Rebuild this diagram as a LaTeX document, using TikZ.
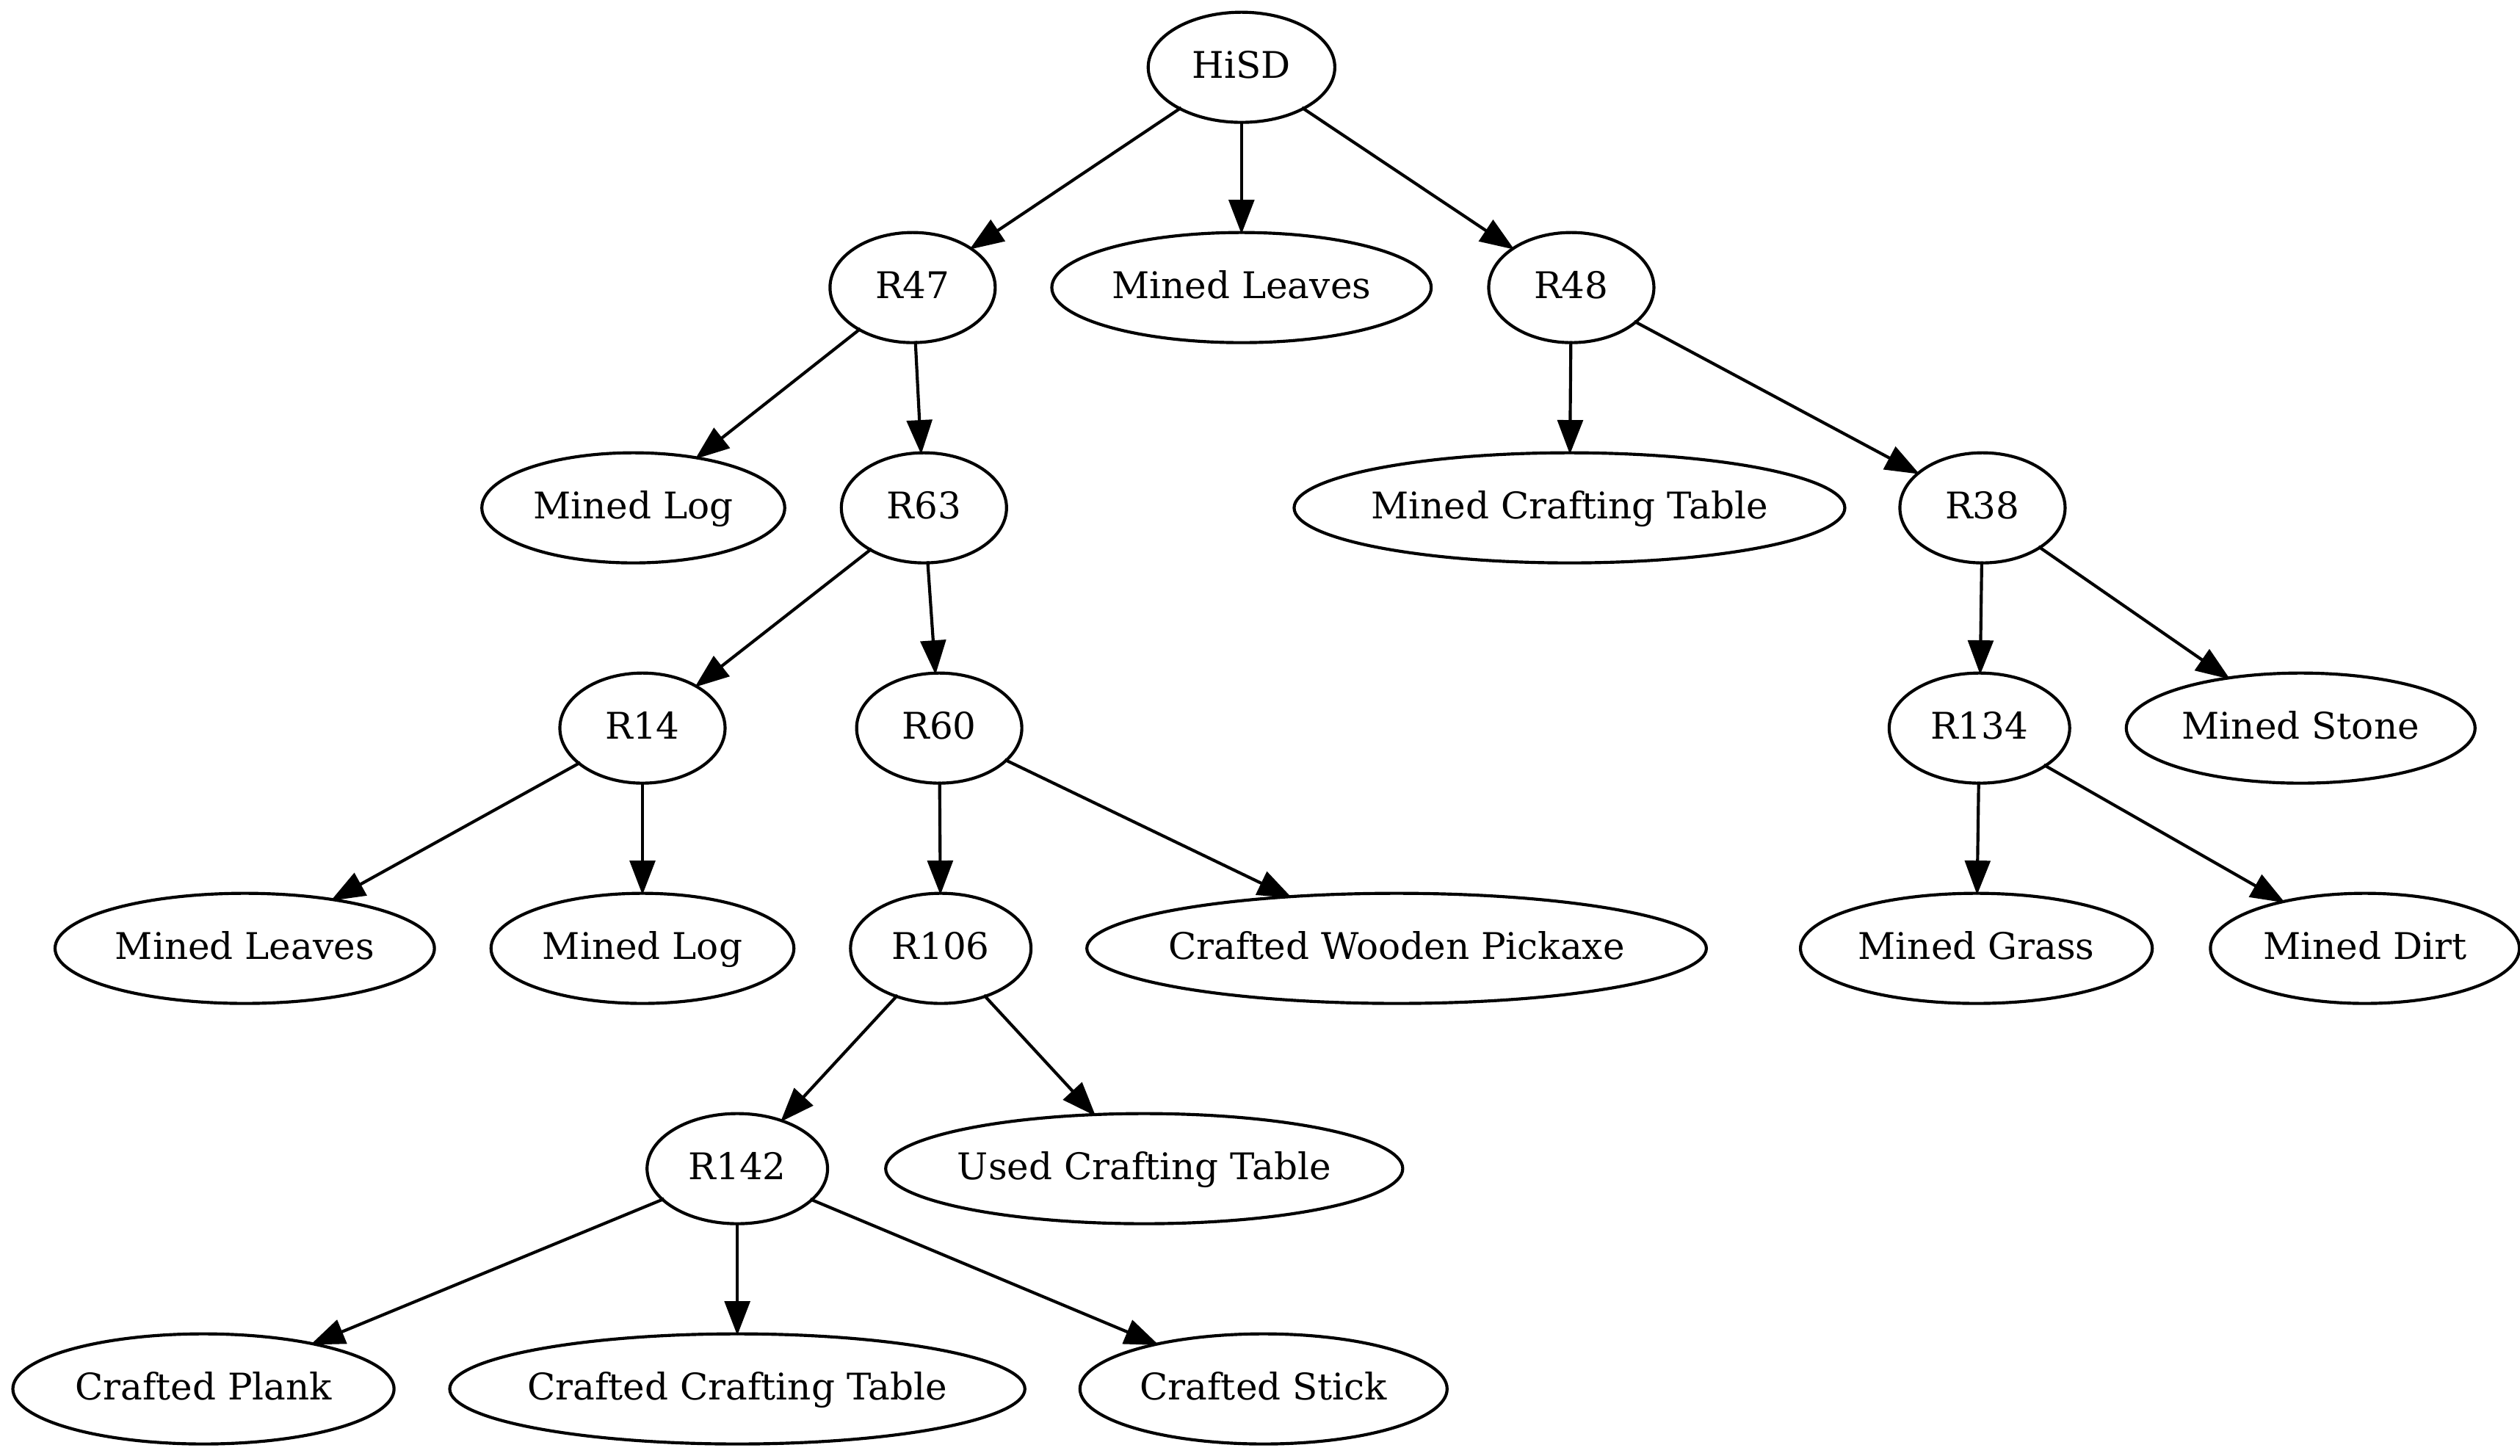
\documentclass[tikz,border=0pt]{standalone}
\usepackage{fontspec}
\setmainfont{DejaVu Serif}
\usetikzlibrary{shapes.geometric,arrows.meta}
\newcommand{\glab}[1]{\makebox[0pt]{#1}}
\tikzset{
  gnode/.style={draw=black, line width=1pt, ellipse, inner sep=0pt, outer sep=-0.5pt,
    minimum height=36pt, text height=10pt, text depth=3pt,
    font=\fontsize{12}{14.4}\selectfont},
  gedge/.style={draw=black, line width=1pt, -{Triangle[length=11.2pt,width=8.3pt]}}
}
\begin{document}
\begin{tikzpicture}[x=1pt,y=-1pt]
\fill[white] (0,0) rectangle (823.7,475.9);
\useasboundingbox (0,0) rectangle (823.7,475.9);
% rank 0
\node[gnode, minimum width=61pt] (hisd) at (405.8,22) {\glab{HiSD}};
% rank 1
\node[gnode, minimum width=54pt] (r47) at (298.3,94) {\glab{R47}};
\node[gnode, minimum width=124pt] (ml1) at (405.8,94) {\glab{Mined Leaves}};
\node[gnode, minimum width=54pt] (r48) at (513.6,94) {\glab{R48}};
% rank 2
\node[gnode, minimum width=99pt] (mlog1) at (207,166) {\glab{Mined Log}};
\node[gnode, minimum width=54pt] (r63) at (302,166) {\glab{R63}};
\node[gnode, minimum width=180pt] (mct) at (513,166) {\glab{Mined Crafting Table}};
\node[gnode, minimum width=54pt] (r38) at (648,166) {\glab{R38}};
% rank 3
\node[gnode, minimum width=54pt] (r14) at (210,238) {\glab{R14}};
\node[gnode, minimum width=54pt] (r60) at (307,238) {\glab{R60}};
\node[gnode, minimum width=59pt] (r134) at (647,238) {\glab{R134}};
\node[gnode, minimum width=114pt] (mstone) at (752,238) {\glab{Mined Stone}};
% rank 4
\node[gnode, minimum width=124pt] (ml2) at (80,310) {\glab{Mined Leaves}};
\node[gnode, minimum width=99pt] (mlog2) at (210,310) {\glab{Mined Log}};
\node[gnode, minimum width=59pt] (r106) at (307.5,310) {\glab{R106}};
\node[gnode, minimum width=202.5pt] (cwp) at (456.5,310) {\glab{Crafted Wooden Pickaxe}};
\node[gnode, minimum width=115pt] (mgrass) at (646,310) {\glab{Mined Grass}};
\node[gnode, minimum width=101pt] (mdirt) at (773,310) {\glab{Mined Dirt}};
% rank 5
\node[gnode, minimum width=59pt] (r142) at (241,382) {\glab{R142}};
\node[gnode, minimum width=169pt] (uct) at (374,382) {\glab{Used Crafting Table}};
% rank 6
\node[gnode, minimum width=124.6pt] (cplank) at (66.5,454) {\glab{Crafted Plank}};
\node[gnode, minimum width=188pt] (cct) at (241,454) {\glab{Crafted Crafting Table}};
\node[gnode, minimum width=120pt] (cstick) at (413,454) {\glab{Crafted Stick}};
% edges
\draw[gedge] (hisd) -- (r47);
\draw[gedge] (hisd) -- (ml1);
\draw[gedge] (hisd) -- (r48);
\draw[gedge] (r47) -- (mlog1);
\draw[gedge] (r47) -- (r63);
\draw[gedge] (r48) -- (mct);
\draw[gedge] (r48) -- (r38);
\draw[gedge] (r63) -- (r14);
\draw[gedge] (r63) -- (r60);
\draw[gedge] (r38) -- (r134);
\draw[gedge] (r38) -- (mstone);
\draw[gedge] (r14) -- (ml2);
\draw[gedge] (r14) -- (mlog2);
\draw[gedge] (r60) -- (r106);
\draw[gedge] (r60) -- (cwp);
\draw[gedge] (r134) -- (mgrass);
\draw[gedge] (r134) -- (mdirt);
\draw[gedge] (r106) -- (r142);
\draw[gedge] (r106) -- (uct);
\draw[gedge] (r142) -- (cplank);
\draw[gedge] (r142) -- (cct);
\draw[gedge] (r142) -- (cstick);
\end{tikzpicture}
\end{document}
